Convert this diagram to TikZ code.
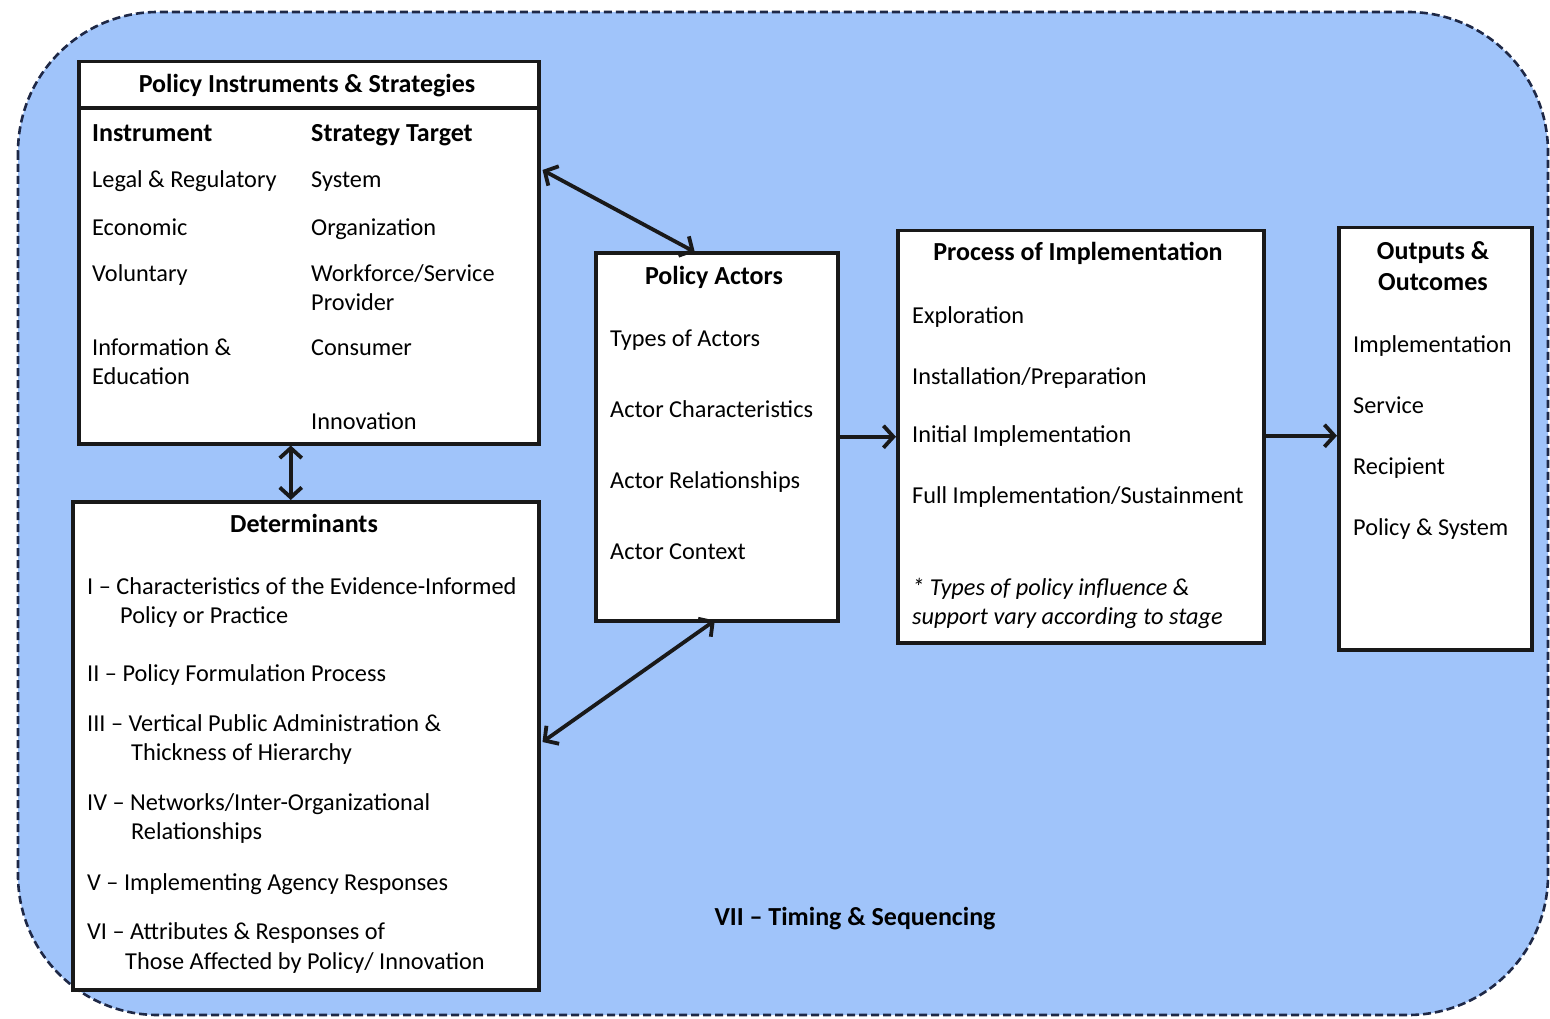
\documentclass[tikz,border=0pt]{standalone}
\usepackage{fontspec}
\setmainfont{Carlito}
\usetikzlibrary{arrows.meta,calc}
\definecolor{panelblue}{RGB}{160,196,250}
\definecolor{dashnavy}{RGB}{30,40,70}
\begin{document}
\begin{tikzpicture}[x=1pt,y=-1pt,
  box/.style={draw=black!90, line width=3.5pt, fill=white, anchor=north west, inner sep=0pt},
  txt/.style={anchor=base west, inner sep=0pt, font=\fontsize{24.3}{28}\selectfont},
  hd/.style={anchor=base, inner sep=0pt, font=\fontsize{26}{30}\selectfont\bfseries},
  link/.style={line width=3.8pt, black!90, {Straight Barb[length=10pt,width=22pt]}-{Straight Barb[length=10pt,width=22pt]}},
  flow/.style={line width=3.8pt, black!90, -{Straight Barb[length=10pt,width=22pt]}}]
\useasboundingbox (0,0) rectangle (1550,1019);
\fill[white] (0,0) rectangle (1550,1019);

% dashed panel behind everything
\draw[fill=panelblue, draw=dashnavy, line width=2.6pt, dash pattern=on 8pt off 4pt, rounded corners=140pt]
  (18,12) rectangle (1548,1015);

% boxes
\node[box, minimum width=460pt, minimum height=382pt] (pis) at (77,60) {};
\draw[line width=3.5pt, black!90] (pis.west |- 0,108) -- (pis.east |- 0,108);
\node[box, minimum width=466pt, minimum height=488pt] (det) at (71,500) {};
\node[box, minimum width=242pt, minimum height=368pt] (pa) at (594,251) {};
\node[box, minimum width=366pt, minimum height=412pt] (proc) at (896,229) {};
\node[box, minimum width=193pt, minimum height=422pt] (out) at (1337,226) {};

% Policy Instruments & Strategies
\node[hd] (pisT) at (307,93) {Policy Instruments \& Strategies};
\node[txt, font=\fontsize{26}{30}\selectfont\bfseries] (insH) at (92,142) {Instrument};
\node[txt, font=\fontsize{26}{30}\selectfont\bfseries] (strH) at (311,142) {Strategy Target};
\node[txt] (i1) at (92,188) {Legal \& Regulatory};
\node[txt] (i2) at (92,236) {Economic};
\node[txt] (i3) at (92,281) {Voluntary};
\node[txt] (i4a) at (92,355) {Information \&};
\node[txt] (i4b) at (92,384) {Education};
\node[txt] (s1) at (311,188) {System};
\node[txt] (s2) at (311,236) {Organization};
\node[txt] (s3a) at (311,281) {Workforce/Service};
\node[txt] (s3b) at (311,310) {Provider};
\node[txt] (s4) at (311,355) {Consumer};
\node[txt] (s5) at (311,429) {Innovation};

% Determinants
\node[hd] (detT) at (304,532) {Determinants};
\node[txt] (d1a) at (87,594) {I – Characteristics of the Evidence-Informed};
\node[txt] (d1b) at (120,623) {Policy or Practice};
\node[txt] (d2) at (87,681) {II – Policy Formulation Process};
\node[txt] (d3a) at (87,731) {III – Vertical Public Administration \&};
\node[txt] (d3b) at (131,760) {Thickness of Hierarchy};
\node[txt] (d4a) at (87,810) {IV – Networks/Inter-Organizational};
\node[txt] (d4b) at (131,839) {Relationships};
\node[txt] (d5) at (87,890) {V – Implementing Agency Responses};
\node[txt] (d6a) at (87,939) {VI – Attributes \& Responses of};
\node[txt] (d6b) at (125,969) {Those Affected by Policy/ Innovation};

% Policy Actors
\node[hd] (paT) at (714,284) {Policy Actors};
\node[txt] (a1) at (610,346) {Types of Actors};
\node[txt] (a2) at (610,417) {Actor Characteristics};
\node[txt] (a3) at (610,488) {Actor Relationships};
\node[txt] (a4) at (610,559) {Actor Context};

% Process of Implementation
\node[hd] (procT) at (1078,261) {Process of Implementation};
\node[txt] (p1) at (912,323) {Exploration};
\node[txt] (p2) at (912,384) {Installation/Preparation};
\node[txt] (p3) at (912,442) {Initial Implementation};
\node[txt] (p4) at (912,503) {Full Implementation/Sustainment};
\node[txt, font=\fontsize{24.3}{28}\selectfont\itshape] (n1) at (912,595) {* Types of policy influence \&};
\node[txt, font=\fontsize{24.3}{28}\selectfont\itshape] (n2) at (912,624) {support vary according to stage};

% Outputs & Outcomes
\node[hd] (outTa) at (1433,259) {Outputs \&};
\node[hd] (outTb) at (1433,290) {Outcomes};
\node[txt] (o1) at (1353,352) {Implementation};
\node[txt] (o2) at (1353,413) {Service};
\node[txt] (o3) at (1353,474) {Recipient};
\node[txt] (o4) at (1353,535) {Policy \& System};

% timing label
\node[hd] (timing) at (855,925) {VII – Timing \& Sequencing};

% connectors
\draw[link] ([xshift=2pt,yshift=-110pt]pis.north east) -- ([xshift=-22pt,yshift=-1pt]pa.north);
\draw[link] ([xshift=-18pt]pis.south) -- ([xshift=-18pt]pis.south |- det.north);
\draw[link] ([xshift=2pt,yshift=-242pt]det.north east) -- ([xshift=-2pt,yshift=2pt]pa.south);
\draw[flow] (pa.east) -- (pa.east -| proc.west);
\draw[flow] ([yshift=1pt]proc.east) -- ([yshift=1pt]proc.east -| out.west);
\end{tikzpicture}
\end{document}
